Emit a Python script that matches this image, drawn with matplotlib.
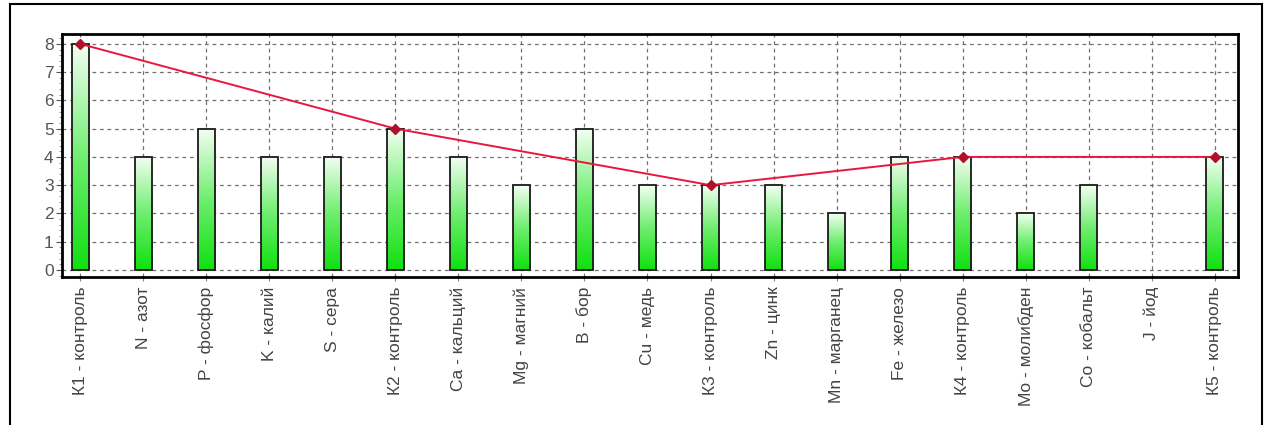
import matplotlib
matplotlib.use("Agg")
import matplotlib.pyplot as plt
import numpy as np
from matplotlib.colors import LinearSegmentedColormap
from matplotlib.patches import Rectangle
from matplotlib.ticker import MultipleLocator

plt.rcParams["font.family"] = ["Liberation Sans", "DejaVu Sans"]

# Variants of the experiment (element excluded from the nutrient mix)
labels = [
    "К1 - контроль", "N - азот", "P - фосфор", "K - калий", "S - сера",
    "К2 - контроль", "Ca - кальций", "Mg - магний", "B - бор", "Cu - медь",
    "К3 - контроль", "Zn - цинк", "Mn - марганец", "Fe - железо",
    "К4 - контроль", "Mo - молибден", "Co - кобальт", "J - йод", "К5 - контроль",
]
values = [8, 4, 5, 4, 4, 5, 4, 3, 5, 3, 3, 3, 2, 4, 4, 2, 3, 0, 4]
control_idx = [0, 5, 10, 14, 18]

fig = plt.figure(figsize=(12.7, 4.25), dpi=100)
fig.patch.set_facecolor("white")

# outer frame of the panel
fig.add_artist(Rectangle((10 / 1270, -0.05), 1252 / 1270, 1.05 - 4 / 425,
                         transform=fig.transFigure, fill=False,
                         edgecolor="black", linewidth=1.5, clip_on=False))

ax = fig.add_axes([62 / 1270, 148 / 425, 1176 / 1270, 243 / 425])
x = np.arange(len(labels))
width = 0.27

ax.set_xlim(-0.29, len(labels) - 1 + 0.37)
ax.set_ylim(-0.25, 8.35)

# dashed grid on every category and every integer
for xi in x:
    ax.axvline(xi, color="#707070", linestyle=(0, (3, 3)), linewidth=0.9, zorder=0)
for yi in range(0, 9):
    ax.axhline(yi, color="#707070", linestyle=(0, (3, 3)), linewidth=0.9, zorder=0)

# bars: white-to-green vertical gradient clipped to each bar
cmap = LinearSegmentedColormap.from_list("bar_green", ["#10e010", "#70ee70", "#f4fff4"])
grad = np.linspace(0, 1, 256).reshape(-1, 1)
bars = ax.bar(x, values, width, facecolor="none", edgecolor="#1a1a1a",
              linewidth=1.3, zorder=3)
for rect, v in zip(bars, values):
    if v <= 0:
        rect.set_linewidth(0)
        continue
    x0 = rect.get_x()
    im = ax.imshow(grad, cmap=cmap, aspect="auto", origin="lower",
                   extent=(x0, x0 + width, 0, v), zorder=2, interpolation="bilinear")
    im.set_clip_path(rect)

# line through the control variants
ax.plot(x[control_idx], [values[i] for i in control_idx], color="#e8173c",
        linewidth=1.4, zorder=4)
ax.plot(x[control_idx], [values[i] for i in control_idx], linestyle="none",
        marker="D", markersize=5, color="#b0102c", zorder=5)

ax.set_xticks(x)
ax.set_xticklabels(labels, rotation=90, fontsize=12.5, color="#444444")
ax.set_yticks(range(0, 9))
ax.yaxis.set_minor_locator(MultipleLocator(0.2))
ax.tick_params(axis="y", labelsize=12.5, colors="#555555", length=4, pad=2)
ax.tick_params(axis="y", which="minor", length=2, color="#888888")
ax.tick_params(axis="x", length=3, color="#888888", pad=4)

for spine in ax.spines.values():
    spine.set_linewidth(2)
    spine.set_color("black")

fig.savefig("out.png", dpi=100, facecolor=fig.get_facecolor())
